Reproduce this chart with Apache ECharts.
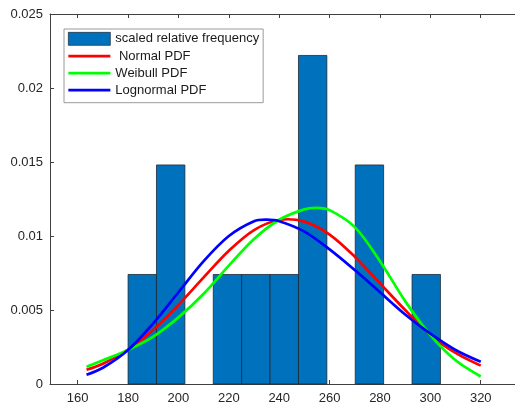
<!DOCTYPE html>
<html>
<head>
<meta charset="utf-8">
<script src="https://cdn.jsdelivr.net/npm/echarts@6/dist/echarts.min.js"></script>
<style>
  html, body { margin: 0; padding: 0; background: #ffffff; }
  #chart { width: 515px; height: 408px; }
</style>
</head>
<body>
<div id="chart"></div>
<script>
// Histogram bins (edges) and scaled relative frequency per bin
const binEdges = [180, 191.27, 202.55, 213.82, 225.09, 236.36, 247.64, 258.91, 270.18, 281.45, 292.73, 304];
const binDensity = [0.0074, 0.0148, 0, 0.0074, 0.0074, 0.0074, 0.0222, 0, 0.0148, 0, 0.0074];

// Fitted density curves
const normalX = [163.5, 170, 180, 190, 200, 210, 220, 230, 240, 250, 260, 270, 280, 290, 300, 310, 320];
const normalY = [0.00096, 0.00137, 0.00232, 0.00367, 0.00535, 0.0072, 0.0090, 0.0104, 0.01108, 0.01097, 0.0101, 0.0086, 0.0068, 0.0050, 0.0033, 0.0021, 0.00124];

const weibullX = [163.5, 170, 180, 190, 200, 210, 220, 230, 240, 250, 255, 260, 270, 280, 290, 300, 310, 320];
const weibullY = [0.00117, 0.0016, 0.0023, 0.0032, 0.0045, 0.0061, 0.0080, 0.0098, 0.0111, 0.0118, 0.0119, 0.01175, 0.0106, 0.0083, 0.0056, 0.0033, 0.0016, 0.00051];

const lognormalX = [163.5, 170, 180, 190, 200, 210, 220, 230, 235, 240, 250, 260, 270, 280, 290, 300, 310, 320];
const lognormalY = [0.00062, 0.0011, 0.0023, 0.0041, 0.0062, 0.0083, 0.0100, 0.0110, 0.0111, 0.0110, 0.0103, 0.0091, 0.0077, 0.0062, 0.0047, 0.0034, 0.0023, 0.0015];

// Axis tick values
const xTicks = [160, 180, 200, 220, 240, 260, 280, 300, 320];

const seriesNames = ['scaled relative frequency', ' Normal PDF', 'Weibull PDF', 'Lognormal PDF'];

const zip = (xs, ys) => xs.map((x, i) => [x, ys[i]]);
const barData = binDensity.map((d, i) => [binEdges[i], binEdges[i + 1], d]).filter(b => b[2] > 0);

const axisColor = '#404040';
const textColor = '#262626';
const barColor = '#0072BD';
const barEdge = '#1c2833';
const font = 'Liberation Sans, Arial, Helvetica, sans-serif';
const lineIcon = 'path://M0,0H42V2.8H0Z';

const chart = echarts.init(document.getElementById('chart'), null, { renderer: 'canvas' });

// A density curve: one smooth polyline through all of the series' points,
// positioned with the cartesian axes (api.coord).
const curveSeries = (name, color, xs, ys) => ({
  name,
  type: 'custom',
  coordinateSystem: 'cartesian2d',
  itemStyle: { color },
  encode: { x: 0, y: 1 },
  data: zip(xs, ys),
  renderItem: (params, api) => {
    if (params.dataIndex !== 0) return { type: 'group', children: [] };
    const pts = xs.map((x, i) => api.coord([x, ys[i]]));
    return {
      type: 'polyline',
      shape: { points: pts, smooth: 0.33 },
      style: { stroke: color, lineWidth: 2.7, fill: null, lineJoin: 'round', lineCap: 'butt' }
    };
  }
});

const option = {
  animation: false,
  backgroundColor: '#ffffff',
  grid: { left: 50, right: 0, top: 14, bottom: 24, containLabel: false },
  xAxis: [
    {
      type: 'value', min: 149, max: 333.6, position: 'bottom',
      splitLine: { show: false },
      axisLine: { show: true, onZero: false, lineStyle: { color: axisColor, width: 1 } },
      axisTick: { show: true, inside: true, length: 4, customValues: xTicks, lineStyle: { color: axisColor } },
      axisLabel: { show: true, customValues: xTicks, color: textColor, fontSize: 13, fontFamily: font, margin: 8 }
    },
    {
      type: 'value', min: 149, max: 333.6, position: 'top',
      splitLine: { show: false },
      axisLine: { show: true, onZero: false, lineStyle: { color: axisColor, width: 1 } },
      axisTick: { show: true, inside: true, length: 4, customValues: xTicks, lineStyle: { color: axisColor } },
      axisLabel: { show: false }
    }
  ],
  yAxis: {
    type: 'value', min: 0, max: 0.025, interval: 0.005,
    splitLine: { show: false },
    axisLine: { show: true, onZero: false, lineStyle: { color: axisColor, width: 1 } },
    axisTick: { show: true, inside: true, length: 4, lineStyle: { color: axisColor } },
    axisLabel: {
      color: textColor, fontSize: 13, fontFamily: font, margin: 7,
      formatter: v => String(parseFloat(v.toFixed(4)))
    }
  },
  legend: {
    orient: 'vertical',
    left: 64, top: 29,
    padding: [3, 4, 6, 4],
    itemWidth: 42, itemHeight: 13, itemGap: 4,
    symbolKeepAspect: true,
    backgroundColor: '#ffffff',
    borderColor: '#9a9a9a', borderWidth: 1,
    textStyle: { color: '#1a1a1a', fontSize: 13, fontFamily: font },
    data: [
      { name: seriesNames[0], icon: 'rect', itemStyle: { color: barColor, borderColor: barEdge, borderWidth: 0.7 } },
      { name: seriesNames[1], icon: lineIcon, itemStyle: { color: '#ff0000' } },
      { name: seriesNames[2], icon: lineIcon, itemStyle: { color: '#00ff00' } },
      { name: seriesNames[3], icon: lineIcon, itemStyle: { color: '#0000ff' } }
    ]
  },
  series: [
    {
      name: seriesNames[0],
      type: 'custom',
      xAxisIndex: 0,
      itemStyle: { color: barColor, borderColor: barEdge, borderWidth: 0.7 },
      encode: { x: [0, 1], y: 2 },
      renderItem: (params, api) => {
        const p0 = api.coord([api.value(0), 0]);
        const p1 = api.coord([api.value(1), api.value(2)]);
        return {
          type: 'rect',
          shape: { x: p0[0], y: p1[1], width: p1[0] - p0[0], height: p0[1] - p1[1] },
          style: { fill: barColor, stroke: barEdge, lineWidth: 0.8 }
        };
      },
      data: barData
    },
    curveSeries(seriesNames[1], '#ff0000', normalX, normalY),
    curveSeries(seriesNames[2], '#00ff00', weibullX, weibullY),
    curveSeries(seriesNames[3], '#0000ff', lognormalX, lognormalY)
  ]
};

chart.setOption(option);
</script>
</body>
</html>
